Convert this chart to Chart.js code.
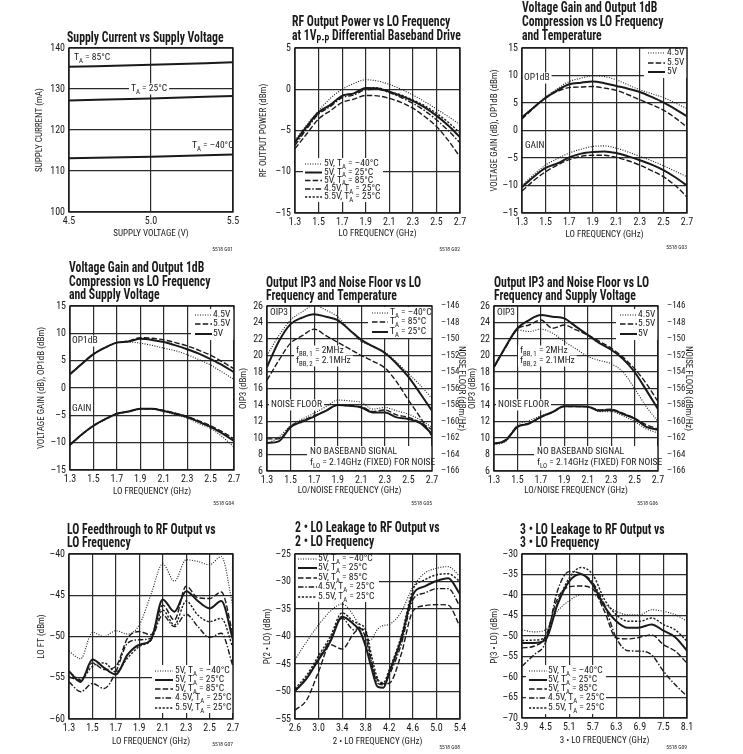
<!DOCTYPE html>
<html>
<head>
<meta charset="utf-8">
<script src="https://cdn.jsdelivr.net/npm/chart.js@4.4.0/dist/chart.umd.min.js"></script>
<style>
  body { margin: 0; background: #fff; width: 743px; height: 754px; position: relative; overflow: hidden; }
  canvas { position: absolute; }
</style>
</head>
<body>
<canvas id="g01"></canvas><canvas id="g02"></canvas><canvas id="g03"></canvas>
<canvas id="g04"></canvas><canvas id="g05"></canvas><canvas id="g06"></canvas>
<canvas id="g07"></canvas><canvas id="g08"></canvas><canvas id="g09"></canvas>
<script>
// ---- data ----
const loFreq = [1.3, 1.4, 1.5, 1.6, 1.7, 1.8, 1.9, 2.0, 2.1, 2.2, 2.3, 2.4, 2.5, 2.6, 2.7];
const loFreqTicks = [1.3, 1.5, 1.7, 1.9, 2.1, 2.3, 2.5, 2.7];

// G01 supply current vs supply voltage
const g01Volt = [4.5, 5.0, 5.5];
const g01Ta85 = [135.4, 135.9, 136.5];
const g01Ta25 = [127.2, 127.7, 128.3];
const g01TaM40 = [113.1, 113.5, 114.0];
const g01XTicks = [4.5, 5.0, 5.5];
const g01YTicks = [100, 110, 120, 130, 140];

// G02 RF output power
const g02M40 = [-6.2, -4.3, -2.6, -1.1, 0.0, 0.7, 1.15, 1.0, 0.6, 0.0, -0.7, -1.5, -2.4, -3.3, -4.3];
const g02T25 = [-6.4, -4.5, -2.8, -1.9, -0.8, -0.5, 0.15, 0.1, -0.3, -0.8, -1.4, -2.2, -3.2, -4.4, -5.8];
const g02T85 = [-7.2, -5.4, -3.6, -2.6, -1.6, -1.2, -0.75, -0.8, -1.1, -1.6, -2.3, -3.3, -4.5, -6.2, -8.2];
const g02V45 = [-6.8, -4.8, -3.0, -2.1, -1.0, -0.7, -0.05, 0.0, -0.4, -1.0, -1.7, -2.6, -3.7, -5.0, -6.5];
const g02V55 = [-6.5, -4.6, -2.8, -1.9, -0.8, -0.5, 0.1, 0.15, -0.3, -0.7, -1.3, -2.0, -2.9, -4.0, -5.3];
const g02YTicks = [-15, -10, -5, 0, 5];

// G03 gain / OP1dB vs temperature
const g03OpV45 = [2.4, 4.3, 6.1, 7.6, 8.9, 9.5, 9.95, 9.8, 9.2, 8.3, 7.4, 6.7, 6.0, 5.0, 4.0];
const g03OpV5 = [2.4, 4.2, 5.9, 7.3, 8.4, 8.7, 8.9, 8.6, 8.1, 7.6, 7.0, 6.1, 5.1, 3.9, 2.6];
const g03OpV55 = [2.1, 4.1, 6.0, 7.1, 7.8, 7.9, 8.0, 7.7, 7.3, 6.5, 5.6, 4.7, 3.7, 2.3, 0.6];
const g03GainV45 = [-10.0, -8.0, -6.3, -5.1, -4.1, -3.4, -2.9, -2.8, -3.2, -3.9, -4.7, -5.5, -6.4, -7.4, -8.4];
const g03GainV5 = [-10.3, -8.4, -6.8, -6.0, -4.9, -4.2, -3.9, -3.8, -4.1, -4.7, -5.4, -6.2, -7.2, -8.5, -10.0];
const g03GainV55 = [-11.0, -9.1, -7.5, -6.3, -5.3, -4.7, -4.5, -4.5, -4.9, -5.5, -6.3, -7.3, -8.4, -10.0, -12.1];
const gainYTicks = [-15, -10, -5, 0, 5, 10, 15];

// G04 gain / OP1dB vs supply voltage
const g04OpV45 = [2.5, 4.4, 6.2, 7.4, 8.3, 8.4, 8.2, 7.8, 7.3, 6.8, 6.1, 5.2, 4.2, 2.9, 1.6];
const g04OpV55 = [2.5, 4.4, 6.2, 7.4, 8.3, 8.6, 9.2, 9.1, 8.8, 8.3, 7.7, 6.9, 6.0, 4.8, 3.5];
const g04OpV5 = [2.5, 4.4, 6.2, 7.4, 8.3, 8.5, 9.0, 8.8, 8.4, 7.8, 7.1, 6.3, 5.3, 4.2, 2.9];
const g04GainV45 = [-10.5, -8.6, -7.0, -5.8, -4.8, -4.4, -3.9, -3.9, -4.3, -4.9, -5.5, -6.5, -7.4, -8.9, -10.8];
const g04GainV55 = [-10.4, -8.5, -6.9, -5.7, -4.7, -4.3, -3.8, -3.8, -4.1, -4.6, -5.2, -6.0, -6.9, -8.0, -9.3];
const g04GainV5 = [-10.4, -8.5, -6.9, -5.7, -4.7, -4.3, -3.8, -3.8, -4.2, -4.7, -5.3, -6.2, -7.1, -8.3, -9.7];

// G05 OIP3 (dBm) and noise floor (dBm/Hz) vs temperature
const g05OipM40 = [20.0, 22.4, 24.3, 25.3, 26.1, 25.5, 24.7, 23.1, 21.7, 21.1, 20.4, 19.2, 17.8, 16.4, 14.8];
const g05Oip85 = [17.0, 19.4, 21.5, 22.4, 23.2, 22.4, 21.6, 20.8, 20.0, 19.3, 18.5, 16.8, 14.6, 12.5, 10.2];
const g05Oip25 = [18.6, 21.7, 23.8, 24.6, 25.0, 24.7, 24.3, 23.1, 21.9, 21.1, 20.3, 19.0, 17.4, 15.4, 13.3];
const g05NfM40 = [-162.7, -161.9, -160.5, -159.7, -159.0, -158.2, -157.4, -157.5, -157.7, -158.5, -158.3, -158.7, -159.1, -159.8, -160.7];
const g05Nf85 = [-162.1, -162.1, -160.6, -159.9, -159.3, -158.7, -158.0, -158.1, -158.2, -158.8, -158.6, -159.2, -159.5, -160.1, -161.0];
const g05Nf25 = [-162.6, -162.4, -160.7, -160.0, -159.4, -158.7, -158.0, -158.1, -158.3, -158.9, -158.9, -159.5, -159.7, -160.2, -161.5];
const oipYTicks = [6, 8, 10, 12, 14, 16, 18, 20, 22, 24, 26];
const nfYTicks = [-166, -164, -162, -160, -158, -156, -154, -152, -150, -148, -146];

// G06 OIP3 and noise floor vs supply voltage
const g06OipV45 = [18.6, 21.0, 23.1, 22.9, 23.2, 22.7, 21.7, 20.8, 19.9, 19.4, 19.0, 18.0, 16.0, 13.8, 12.0];
const g06OipV55 = [18.6, 21.0, 23.2, 23.7, 24.3, 23.3, 23.7, 23.1, 22.5, 21.7, 20.9, 19.8, 18.4, 16.6, 14.4];
const g06OipV5 = [18.6, 21.1, 23.3, 24.3, 24.9, 24.7, 24.5, 23.5, 22.5, 21.5, 20.7, 19.6, 18.0, 15.8, 13.5];
const g06NfV45 = [-162.8, -162.4, -160.4, -159.9, -159.3, -158.8, -158.1, -158.2, -158.2, -158.8, -158.8, -159.3, -160.0, -160.9, -161.4];
const g06NfV55 = [-162.7, -162.2, -160.6, -160.2, -159.5, -158.9, -158.2, -158.2, -158.2, -158.6, -158.5, -159.0, -159.6, -160.4, -160.9];
const g06NfV5 = [-162.7, -162.3, -160.65, -160.25, -159.45, -158.85, -158.15, -158.15, -158.2, -158.7, -158.6, -159.1, -159.65, -160.65, -161.0];

// G07 LO feedthrough
const g07M40 = [-51.8, -52.7, -49.5, -50.0, -49.3, -49.7, -48.6, -44.9, -41.2, -43.3, -40.7, -40.9, -41.3, -40.3, -46.4];
const g07T25 = [-54.2, -55.5, -52.8, -53.8, -54.6, -52.2, -51.0, -50.4, -45.5, -47.0, -44.5, -45.7, -46.6, -45.7, -50.4];
const g07T85 = [-54.9, -55.3, -53.2, -54.0, -53.6, -50.2, -49.4, -49.8, -46.2, -48.0, -43.9, -45.3, -45.4, -44.6, -49.8];
const g07V45 = [-55.5, -56.7, -55.7, -56.3, -54.3, -50.8, -50.4, -50.2, -47.4, -48.8, -47.3, -48.8, -50.1, -49.6, -53.6];
const g07V55 = [-54.3, -55.2, -53.6, -53.2, -54.3, -52.6, -51.2, -50.4, -46.8, -48.6, -45.7, -47.4, -48.2, -47.8, -51.4];
const g07YTicks = [-60, -55, -50, -45, -40];

// G08 2xLO leakage
const g08Freq = [2.6, 2.8, 3.0, 3.2, 3.4, 3.6, 3.7, 3.8, 3.9, 4.0, 4.1, 4.2, 4.4, 4.6, 4.8, 5.0, 5.2, 5.4];
const g08M40 = [-44.2, -40.9, -37.9, -35.4, -34.1, -36.3, -38.5, -40.8, -40.5, -38.7, -38.0, -37.8, -35.6, -31.0, -28.5, -27.6, -27.3, -29.1];
const g08T25 = [-49.9, -47.6, -44.2, -40.9, -36.4, -37.8, -39.0, -41.8, -45.8, -49.1, -49.3, -46.5, -40.6, -32.4, -30.9, -29.9, -29.4, -32.3];
const g08T85 = [-53.4, -51.5, -46.4, -41.5, -42.3, -39.4, -38.6, -39.1, -44.6, -47.9, -48.6, -48.5, -43.3, -35.4, -34.4, -34.2, -34.3, -38.2];
const g08V45 = [-49.9, -47.4, -44.0, -40.5, -36.7, -38.8, -38.4, -40.3, -44.8, -48.5, -48.8, -47.0, -41.5, -33.3, -32.1, -31.3, -31.3, -34.5];
const g08V55 = [-49.5, -47.0, -43.5, -40.0, -35.7, -37.3, -37.8, -38.8, -43.5, -47.6, -48.4, -46.0, -40.0, -31.5, -29.7, -28.8, -28.6, -30.0];
const g08XTicks = [2.6, 3.0, 3.4, 3.8, 4.2, 4.6, 5.0, 5.4];
const g08YTicks = [-55, -50, -45, -40, -35, -30, -25];

// G09 3xLO leakage
const g09Freq = [3.9, 4.2, 4.5, 4.8, 5.1, 5.4, 5.7, 6.0, 6.3, 6.6, 6.9, 7.2, 7.5, 7.8, 8.1];
const g09M40 = [-48.5, -49.0, -48.5, -44.0, -41.4, -39.9, -39.9, -42.2, -44.0, -44.8, -44.8, -43.6, -44.0, -44.8, -46.4];
const g09T25 = [-51.7, -51.7, -50.9, -42.4, -36.7, -34.9, -37.5, -42.8, -46.4, -48.0, -47.9, -47.2, -48.7, -50.3, -53.6];
const g09T85 = [-52.9, -52.5, -50.1, -41.0, -38.0, -37.8, -38.5, -44.0, -50.5, -50.7, -50.3, -49.7, -52.1, -53.7, -56.6];
const g09V45 = [-57.4, -54.6, -51.5, -39.1, -34.3, -34.8, -37.0, -42.4, -50.5, -53.6, -53.7, -54.6, -58.6, -61.9, -64.7];
const g09V55 = [-51.1, -51.0, -50.3, -42.0, -35.9, -33.3, -35.0, -41.1, -44.8, -46.4, -46.4, -45.6, -47.2, -48.5, -51.3];
const g09XTicks = [3.9, 4.5, 5.1, 5.7, 6.3, 6.9, 7.5, 8.1];
const g09YTicks = [-70, -65, -60, -55, -50, -45, -40, -35, -30];

// ---- styling ----
const INK = '#1a1a1a';
const GRID = '#2b2b2b';
const NARROW = '"Roboto Condensed", "Liberation Sans", Arial, sans-serif';
const NOTE_SIZE = 9.5;
const LINE = {
  dot: { borderDash: [1, 1.5], borderWidth: 1.1 },
  solid: { borderDash: [], borderWidth: 2 },
  dash: { borderDash: [5.5, 2.2], borderWidth: 1.4 },
  dashDot: { borderDash: [5.5, 1.8, 1.5, 1.8], borderWidth: 1.4 },
  short: { borderDash: [2.2, 1.6], borderWidth: 1.4 },
};

const fmtNum = v => (v < 0 ? '\u2013' + Math.abs(v) : String(v));

// text with _{subscript} runs
function richRuns(str) {
  return str.split(/(_\{[^}]*\})/).filter(Boolean)
    .map(p => p.startsWith('_{') ? { t: p.slice(2, -1), sub: true } : { t: p, sub: false });
}
function setFont(ctx, size, bold) { ctx.font = `${bold ? 'bold ' : ''}${size}px ${NARROW}`; }
function richWidth(ctx, str, size, bold = false, sx = 1) {
  let w = 0;
  for (const r of richRuns(str)) { setFont(ctx, r.sub ? size * 0.72 : size, bold); w += ctx.measureText(r.t).width; }
  return w * sx;
}
function drawRich(ctx, str, x, y, size, bold = false, sx = 1, align = 'left') {
  const w = richWidth(ctx, str, size, bold, sx);
  ctx.save();
  ctx.translate(align === 'right' ? x - w : x, y);
  ctx.scale(sx, 1);
  ctx.fillStyle = INK;
  ctx.textAlign = 'left';
  ctx.textBaseline = 'middle';
  let px = 0;
  for (const r of richRuns(str)) {
    setFont(ctx, r.sub ? size * 0.72 : size, bold);
    ctx.fillText(r.t, px, r.sub ? size * 0.3 : 0);
    px += ctx.measureText(r.t).width;
  }
  ctx.restore();
  return w;
}

// titles, frame, notes, in-plot legends
const decor = {
  id: 'decor',
  beforeDatasetsDraw(chart, _args, o) {
    const { ctx, chartArea: a } = chart;
    ctx.save();
    ctx.fillStyle = '#fff';
    for (const [x, y, w, h] of o.boxes) ctx.fillRect(a.left + x, a.top + y, w, h);
    if (o.legend) { const [x, y, w, h] = o.legend.box; ctx.fillRect(a.left + x, a.top + y, w, h); }
    for (const n of o.notes) {
      if (!n.bg) continue;
      const w = richWidth(ctx, n.text, n.size || NOTE_SIZE);
      ctx.fillRect(a.left + n.x - 2, a.top + n.y - 5.5, w + 4, 11);
    }
    ctx.strokeStyle = INK;
    ctx.lineWidth = 1.4;
    ctx.strokeRect(a.left, a.top, a.right - a.left, a.bottom - a.top);
    ctx.restore();
    for (const n of o.notes) drawRich(ctx, n.text, a.left + n.x, a.top + n.y, n.size || NOTE_SIZE);
    if (o.legend) {
      const L = o.legend;
      L.items.forEach(([kind, text], i) => {
        const y = a.top + L.rows[i];
        ctx.save();
        ctx.strokeStyle = INK;
        ctx.lineWidth = LINE[kind].borderWidth;
        ctx.setLineDash(LINE[kind].borderDash);
        ctx.beginPath();
        ctx.moveTo(a.left + L.s0, y);
        ctx.lineTo(a.left + L.s1, y);
        ctx.stroke();
        ctx.restore();
        drawRich(ctx, text, a.left + L.tx, y, NOTE_SIZE);
      });
    }
  },
  afterDraw(chart, _args, o) {
    const { ctx, chartArea: a } = chart;
    o.title.forEach((s, i) => drawRich(ctx, s, a.left + o.titleDx, a.top + o.titleY[i], 14, true, 0.84));
    drawRich(ctx, o.footer[0], a.right, a.bottom + o.footer[1], 5.5, false, 1, 'right');
  },
};

function series(xs, ys, kind, axis = 'y') {
  return {
    data: xs.map((x, i) => ({ x, y: ys[i] })),
    ...LINE[kind],
    borderColor: INK,
    pointRadius: 0,
    fill: false,
    cubicInterpolationMode: 'monotone',
    yAxisID: axis,
  };
}

function buildPanel(p) {
  const LS = 40, BS = 30, FS = 14;
  const RW = p.y2 ? 40 : 0, RS = p.y2 ? 4 : 14;
  const canvas = document.getElementById(p.id);
  canvas.width = LS + (p.r - p.l) + RW + RS;
  canvas.height = p.ts + (p.b - p.t) + BS + FS;
  canvas.style.left = (p.l - LS) + 'px';
  canvas.style.top = (p.t - p.ts) + 'px';

  const tickFont = { family: NARROW, size: 10 };
  const axisFont = { family: NARROW, size: 9, lineHeight: 1.2 };
  const half = 9 * 1.2 / 2;
  const grid = { color: GRID, lineWidth: 1.2, drawTicks: false };
  const fixTicks = arr => s => { s.ticks = arr.map(value => ({ value })); };

  const scales = {
    x: {
      type: 'linear', min: p.x.ticks[0], max: p.x.ticks[p.x.ticks.length - 1],
      afterBuildTicks: fixTicks(p.x.ticks),
      afterFit: s => { s.height = BS; },
      grid, border: { display: false },
      ticks: { font: tickFont, color: INK, padding: 3, maxRotation: 0, minRotation: 0, autoSkip: false, callback: v => v.toFixed(1) },
      title: { display: true, text: p.x.title, font: axisFont, color: INK, padding: { top: 0, bottom: BS - p.x.tOff - half } },
    },
    y: {
      min: p.y.ticks[0], max: p.y.ticks[p.y.ticks.length - 1],
      afterBuildTicks: fixTicks(p.y.ticks),
      afterFit: s => { s.width = LS; },
      grid, border: { display: false },
      ticks: { font: tickFont, color: INK, padding: 4, autoSkip: false, callback: fmtNum },
      title: { display: true, text: p.y.title, font: axisFont, color: INK, padding: { top: LS - p.y.tOff - half, bottom: 0 } },
    },
  };
  if (p.y2) {
    scales.y2 = {
      position: 'right', min: p.y2.ticks[0], max: p.y2.ticks[p.y2.ticks.length - 1],
      afterBuildTicks: fixTicks(p.y2.ticks),
      afterFit: s => { s.width = RW; },
      grid: { display: false }, border: { display: false },
      ticks: { font: { family: NARROW, size: 9 }, color: INK, padding: 1, autoSkip: false, callback: fmtNum },
      title: { display: true, text: p.y2.title, font: axisFont, color: INK, padding: { top: RW - p.y2.tOff - half, bottom: 0 } },
    };
  }

  return new Chart(canvas, {
    type: 'line',
    data: { datasets: p.series },
    plugins: [decor],
    options: {
      responsive: false,
      animation: false,
      events: [],
      layout: { padding: { left: 0, top: p.ts, right: RS, bottom: FS } },
      scales,
      plugins: {
        legend: { display: false },
        tooltip: { enabled: false },
        decor: {
          title: p.title, titleY: p.titleY, titleDx: p.titleDx,
          notes: p.notes || [], boxes: p.boxes || [], legend: p.legend || null, footer: p.footer,
        },
      },
    },
  });
}

const tempLegend = [
  ['dot', '5V, T_{A} = \u201340°C'],
  ['solid', '5V, T_{A} = 25°C'],
  ['dash', '5V, T_{A} = 85°C'],
  ['dashDot', '4.5V, T_{A} = 25°C'],
  ['short', '5.5V, T_{A} = 25°C'],
];
const voltLegend = [['dot', '4.5V'], ['dash', '5.5V'], ['solid', '5V']];
const noiseNotes = dx => [
  { text: 'OIP3', x: 3, y: 7 },
  { text: 'f_{BB, 1} = 2MHz', x: dx, y: 45, bg: true },
  { text: 'f_{BB, 2} = 2.1MHz', x: dx, y: 55, bg: true },
  { text: 'NOISE FLOOR', x: 4, y: 99, bg: true },
  { text: 'NO BASEBAND SIGNAL', x: 43, y: 146 },
  { text: 'f_{LO} = 2.14GHz (FIXED) FOR NOISE', x: 43, y: 157 },
];

const panels = [
  {
    id: 'g01', l: 69, t: 48, r: 233, b: 212, ts: 48,
    title: ['Supply Current vs Supply Voltage'], titleY: [-10], titleDx: -2,
    x: { ticks: g01XTicks, title: 'SUPPLY VOLTAGE (V)', tOff: 22 },
    y: { ticks: g01YTicks, title: 'SUPPLY CURRENT (mA)', tOff: 29 },
    series: [series(g01Volt, g01Ta85, 'solid'), series(g01Volt, g01Ta25, 'solid'), series(g01Volt, g01TaM40, 'solid')],
    notes: [
      { text: 'T_{A} = 85°C', x: 5, y: 10 },
      { text: 'T_{A} = 25°C', x: 62, y: 41, bg: true },
      { text: 'T_{A} = \u201340°C', x: 123, y: 98 },
    ],
    footer: ['5518 G01', 38],
  },
  {
    id: 'g02', l: 295, t: 48, r: 460, b: 213, ts: 48,
    title: ['RF Output Power vs LO Frequency', 'at 1V_{P-P} Differential Baseband Drive'], titleY: [-26, -12], titleDx: -3,
    x: { ticks: loFreqTicks, title: 'LO FREQUENCY (GHz)', tOff: 21 },
    y: { ticks: g02YTicks, title: 'RF OUTPUT POWER (dBm)', tOff: 31 },
    series: [series(loFreq, g02M40, 'dot'), series(loFreq, g02T25, 'solid'), series(loFreq, g02T85, 'dash'),
             series(loFreq, g02V45, 'dashDot'), series(loFreq, g02V55, 'short')],
    legend: { s0: 10, s1: 27, tx: 29, rows: [116, 124.5, 132.5, 141, 149], box: [8, 110, 80, 44], items: tempLegend },
    footer: ['5518 G02', 37],
  },
  {
    id: 'g03', l: 522, t: 48, r: 687, b: 213, ts: 48,
    title: ['Voltage Gain and Output 1dB', 'Compression vs LO Frequency', 'and Temperature'], titleY: [-40, -26, -12], titleDx: 0,
    x: { ticks: loFreqTicks, title: 'LO FREQUENCY (GHz)', tOff: 22 },
    y: { ticks: gainYTicks, title: 'VOLTAGE GAIN (dB), OP1dB (dBm)', tOff: 27 },
    series: [series(loFreq, g03OpV45, 'dot'), series(loFreq, g03OpV55, 'dash'), series(loFreq, g03OpV5, 'solid'),
             series(loFreq, g03GainV45, 'dot'), series(loFreq, g03GainV55, 'dash'), series(loFreq, g03GainV5, 'solid')],
    notes: [{ text: 'OP1dB', x: 2, y: 30, bg: true }, { text: 'GAIN', x: 3, y: 98 }],
    legend: { s0: 126, s1: 143, tx: 145, rows: [5, 15, 24], box: [122, 0, 43, 30], items: voltLegend },
    footer: ['5518 G03', 35],
  },
  {
    id: 'g04', l: 70, t: 306, r: 234, b: 470, ts: 50,
    title: ['Voltage Gain and Output 1dB', 'Compression vs LO Frequency', 'and Supply Voltage'], titleY: [-38, -24, -11], titleDx: -1,
    x: { ticks: loFreqTicks, title: 'LO FREQUENCY (GHz)', tOff: 22 },
    y: { ticks: gainYTicks, title: 'VOLTAGE GAIN (dB), OP1dB (dBm)', tOff: 28 },
    series: [series(loFreq, g04OpV45, 'dot'), series(loFreq, g04OpV55, 'dash'), series(loFreq, g04OpV5, 'solid'),
             series(loFreq, g04GainV45, 'dot'), series(loFreq, g04GainV55, 'dash'), series(loFreq, g04GainV5, 'solid')],
    notes: [{ text: 'OP1dB', x: 2, y: 35, bg: true }, { text: 'GAIN', x: 2, y: 103 }],
    legend: { s0: 125, s1: 142, tx: 143, rows: [9, 18, 28], box: [121, 3, 43, 31], items: voltLegend },
    footer: ['5518 G04', 34],
  },
  {
    id: 'g05', l: 267, t: 306, r: 432, b: 471, ts: 50,
    title: ['Output IP3 and Noise Floor vs LO', 'Frequency and Temperature'], titleY: [-23, -10], titleDx: -1,
    x: { ticks: loFreqTicks, title: 'LO/NOISE FREQUENCY (GHz)', tOff: 20 },
    y: { ticks: oipYTicks, title: 'OIP3 (dBm)', tOff: 23 },
    y2: { ticks: nfYTicks, title: 'NOISE FLOOR (dBm/Hz)', tOff: 29 },
    series: [series(loFreq, g05OipM40, 'dot'), series(loFreq, g05Oip85, 'dash'), series(loFreq, g05Oip25, 'solid'),
             series(loFreq, g05NfM40, 'dot', 'y2'), series(loFreq, g05Nf85, 'dash', 'y2'), series(loFreq, g05Nf25, 'solid', 'y2')],
    notes: noiseNotes(29),
    boxes: [[40, 140, 125, 24]],
    legend: { s0: 105, s1: 121, tx: 123, rows: [7, 16, 26], box: [101, 1, 64, 31],
              items: [['dot', 'T_{A} = \u201340°C'], ['dash', 'T_{A} = 85°C'], ['solid', 'T_{A} = 25°C']] },
    footer: ['5518 G05', 33],
  },
  {
    id: 'g06', l: 494, t: 306, r: 658, b: 471, ts: 50,
    title: ['Output IP3 and Noise Floor vs LO', 'Frequency and Supply Voltage'], titleY: [-23, -10], titleDx: 0,
    x: { ticks: loFreqTicks, title: 'LO/NOISE FREQUENCY (GHz)', tOff: 20 },
    y: { ticks: oipYTicks, title: 'OIP3 (dBm)', tOff: 21 },
    y2: { ticks: nfYTicks, title: 'NOISE FLOOR (dBm/Hz)', tOff: 30 },
    series: [series(loFreq, g06OipV45, 'dot'), series(loFreq, g06OipV55, 'dash'), series(loFreq, g06OipV5, 'solid'),
             series(loFreq, g06NfV45, 'dot', 'y2'), series(loFreq, g06NfV55, 'dash', 'y2'), series(loFreq, g06NfV5, 'solid', 'y2')],
    notes: noiseNotes(26),
    boxes: [[40, 140, 124, 24]],
    legend: { s0: 126, s1: 143, tx: 144, rows: [9, 18, 28], box: [122, 3, 42, 31], items: voltLegend },
    footer: ['5518 G06', 33],
  },
  {
    id: 'g07', l: 69, t: 554, r: 233, b: 719, ts: 50,
    title: ['LO Feedthrough to RF Output vs', 'LO Frequency'], titleY: [-24, -11], titleDx: -2,
    x: { ticks: loFreqTicks, title: 'LO FREQUENCY (GHz)', tOff: 23 },
    y: { ticks: g07YTicks, title: 'LO FT (dBm)', tOff: 27 },
    series: [series(loFreq, g07M40, 'dot'), series(loFreq, g07T25, 'solid'), series(loFreq, g07T85, 'dash'),
             series(loFreq, g07V45, 'dashDot'), series(loFreq, g07V55, 'short')],
    legend: { s0: 86, s1: 104, tx: 106, rows: [117, 126, 135, 144, 154], box: [83, 111, 81, 48], items: tempLegend },
    footer: ['5518 G07', 26],
  },
  {
    id: 'g08', l: 295, t: 554, r: 460, b: 719, ts: 50,
    title: ['2 • LO Leakage to RF Output vs', '2 • LO Frequency'], titleY: [-26, -12], titleDx: 0,
    x: { ticks: g08XTicks, title: '2 • LO FREQUENCY (GHz)', tOff: 23 },
    y: { ticks: g08YTicks, title: 'P(2 • LO) (dBm)', tOff: 27 },
    series: [series(g08Freq, g08M40, 'dot'), series(g08Freq, g08T25, 'solid'), series(g08Freq, g08T85, 'dash'),
             series(g08Freq, g08V45, 'dashDot'), series(g08Freq, g08V55, 'short')],
    legend: { s0: 3, s1: 22, tx: 23, rows: [5, 14, 24, 33, 43], box: [0, 0, 84, 48], items: tempLegend },
    footer: ['5518 G08', 29],
  },
  {
    id: 'g09', l: 522, t: 554, r: 687, b: 718, ts: 50,
    title: ['3 • LO Leakage to RF Output vs', '3 • LO Frequency'], titleY: [-24, -11], titleDx: -2,
    x: { ticks: g09XTicks, title: '3 • LO FREQUENCY (GHz)', tOff: 23 },
    y: { ticks: g09YTicks, title: 'P(3 • LO) (dBm)', tOff: 27 },
    series: [series(g09Freq, g09M40, 'dot'), series(g09Freq, g09T25, 'solid'), series(g09Freq, g09T85, 'dash'),
             series(g09Freq, g09V45, 'dashDot'), series(g09Freq, g09V55, 'short')],
    legend: { s0: 7, s1: 25, tx: 26, rows: [117, 126, 135, 144, 154], box: [4, 111, 80, 49], items: tempLegend },
    footer: ['5518 G09', 30],
  },
];

panels.forEach(buildPanel);
</script>
</body>
</html>
